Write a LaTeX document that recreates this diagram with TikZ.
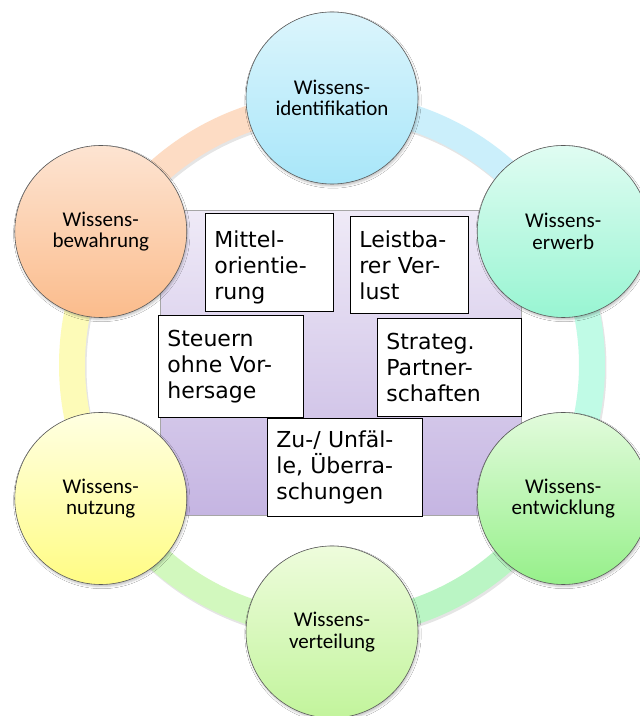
\documentclass[tikz,border=0pt]{standalone}
\usepackage{fontspec}
\setmainfont{DejaVu Sans}
\newfontfamily\calfont{Carlito}
\usetikzlibrary{shadows.blur}
\definecolor{idT}{HTML}{DCF5FC}\definecolor{idB}{HTML}{A8E6F9}\definecolor{idR}{HTML}{CBEFFB}
\definecolor{erT}{HTML}{E0FCF2}\definecolor{erB}{HTML}{98F5D2}\definecolor{erR}{HTML}{C0FBE6}
\definecolor{enT}{HTML}{E2FBDC}\definecolor{enB}{HTML}{96F08A}\definecolor{enR}{HTML}{BAF5C4}
\definecolor{veT}{HTML}{EEFCDC}\definecolor{veB}{HTML}{C2F49C}\definecolor{veR}{HTML}{D2F8BE}
\definecolor{nuT}{HTML}{FFFFE2}\definecolor{nuB}{HTML}{FFFC84}\definecolor{nuR}{HTML}{FDFBB8}
\definecolor{beT}{HTML}{FDE4D2}\definecolor{beB}{HTML}{FBBC8C}\definecolor{beR}{HTML}{FDDCC4}
\definecolor{rectT}{HTML}{EFEAF7}\definecolor{rectB}{HTML}{C5B5E2}
\begin{document}
\begin{tikzpicture}[x=1pt,y=1pt,
  cyc/.style={circle, draw=black!65, line width=0.6pt, minimum size=172pt, inner sep=0pt,
    align=center, font=\calfont\fontsize{21}{21.5}\selectfont,
    blur shadow={shadow xshift=1pt, shadow yshift=-2pt, shadow opacity=25, shadow blur steps=4}},
  tbox/.style={draw=black, line width=0.8pt, fill=white, anchor=north west, align=left,
    inner xsep=9pt, inner ysep=0pt, font=\fontsize{22}{26}\selectfont},
  ringseg/.style={line width=26pt},
  ringshadow/.style={line width=26pt, black, opacity=0.10}
]
\useasboundingbox (0,0) rectangle (640,716);
\fill[white] (0,0) rectangle (640,716);
\coordinate (C) at (332,351);

% ring shadow
\foreach \a in {90,30,-30,-90,-150,150}{
  \draw[ringshadow] ([shift={(\a:260)}]C) ++(1.5,-2.5) arc[start angle=\a, end angle=\a-60, radius=260];
}
% ring segments
\draw[ringseg, idR] ([shift={(90:260)}]C) arc[start angle=90, end angle=30, radius=260];
\draw[ringseg, erR] ([shift={(30:260)}]C) arc[start angle=30, end angle=-30, radius=260];
\draw[ringseg, enR] ([shift={(-30:260)}]C) arc[start angle=-30, end angle=-90, radius=260];
\draw[ringseg, veR] ([shift={(-90:260)}]C) arc[start angle=-90, end angle=-150, radius=260];
\draw[ringseg, nuR] ([shift={(-150:260)}]C) arc[start angle=-150, end angle=-210, radius=260];
\draw[ringseg, beR] ([shift={(150:260)}]C) arc[start angle=150, end angle=90, radius=260];

% central rectangle
\node[draw=black!35, line width=0.6pt, top color=rectT, bottom color=rectB,
  minimum width=361pt, minimum height=305pt, inner sep=0pt, anchor=north west] (mid) at (160,506) {};

% circles
\node[cyc, top color=idT, bottom color=idB] (ident) at ([shift={(90:267)}]C) {Wissens-\\identifikation};
\node[cyc, top color=erT, bottom color=erB] (erw) at ([shift={(30:267)}]C) {Wissens-\\erwerb};
\node[cyc, top color=enT, bottom color=enB] (entw) at ([shift={(-30:267)}]C) {Wissens-\\entwicklung};
\node[cyc, top color=veT, bottom color=veB] (vert) at ([shift={(-90:267)}]C) {Wissens-\\verteilung};
\node[cyc, top color=nuT, bottom color=nuB] (nutz) at ([shift={(-150:267)}]C) {Wissens-\\nutzung};
\node[cyc, top color=beT, bottom color=beB] (bew) at ([shift={(150:267)}]C) {Wissens-\\bewahrung};

% text boxes
\node[tbox, text width=110pt, minimum height=98pt] (b1) at (205,503) {\rule{0pt}{26pt}Mittel-\\orientie-\\rung};
\node[tbox, text width=100pt, minimum height=97pt] (b2) at (350,500) {Leistba-\\rer Ver-\\lust};
\node[tbox, text width=127pt, minimum height=102pt] (b3) at (158,401) {Steuern\\ohne Vor-\\hersage};
\node[tbox, text width=126pt, minimum height=98pt] (b4) at (377,398) {Strateg.\\Partner-\\schaften};
\node[tbox, text width=137pt, minimum height=98pt] (b5) at (267,298) {Zu-/ Unfäl-\\le, Überra-\\schungen};
\end{tikzpicture}
\end{document}
